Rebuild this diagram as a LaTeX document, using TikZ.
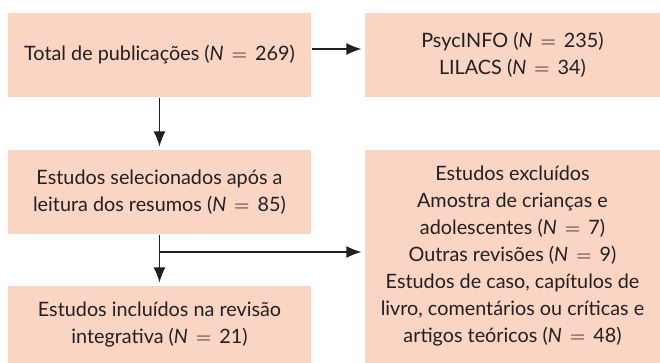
\documentclass[tikz,border=0pt]{standalone}
\usepackage{fontspec}
\setmainfont{Lato}
\usetikzlibrary{arrows.meta}
\definecolor{boxfill}{RGB}{251,213,196}
\definecolor{inkgray}{RGB}{35,31,32}
\newcommand{\Ncount}[1]{(\textit{N}\hspace{0.4em}$=$\hspace{0.4em}#1)}
\begin{document}
\begin{tikzpicture}[x=0.5pt, y=-0.5pt, semithick, shorten >=1.5pt, >={Latex[length=7.5pt,width=6pt]}, main box/.style={rectangle,fill=boxfill,text=inkgray,align=center,inner sep=0pt,minimum width=151.5pt,minimum height=42pt}]
\useasboundingbox (0,0) rectangle (660,363);
\begin{scope}[every node/.style={font=\fontsize{9.9}{13.5}\selectfont}]
\node [main box](total) at (159.5,55) {Total de publicações \Ncount{269}};
\node [main box,minimum width=147.5pt](bases) at (512.5,55) {PsycINFO \Ncount{235}\\LILACS \Ncount{34}};
\node [main box](selec) at (159.5,192) {Estudos selecionados após a\\leitura dos resumos \Ncount{85}};
\node [main box,minimum height=38.5pt](incl) at (159.5,324.5) {Estudos incluídos na revisão\\integrativa \Ncount{21}};
\node [main box,minimum width=147.5pt,minimum height=106.5pt](excl) at (512.5,256.5) {Estudos excluídos\\Amostra de crianças e\\adolescentes \Ncount{7}\\Outras revisões \Ncount{9}\\Estudos de caso, capítulos de\\livro, comentários ou críticas e\\artigos teóricos \Ncount{48}};
\end{scope}
\coordinate (split) at (159.5,252);
\path[->, inkgray]
	([yshift=3pt]total.east) edge ([yshift=3pt]bases.west)
	(total) edge (selec)
	(selec) edge (incl)
	(split) edge (split -| excl.west)
	;
\end{tikzpicture}
\end{document}
